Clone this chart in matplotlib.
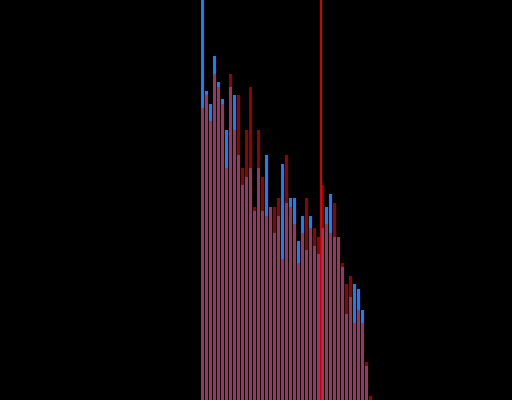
import matplotlib
matplotlib.use("Agg")
import matplotlib.pyplot as plt
import numpy as np

# bin index of each bar
bins = list(range(43))
# blue series heights
blue = [400, 309, 296, 344, 318, 301, 270, 313, 305, 245, 215,
        223, 232, 189, 232, 189, 245, 193, 167, 184, 236, 197,
        202, 202, 159, 184, 150, 184, 154, 146, 172, 193, 206,
        163, 163, 133, 86, 103, 116, 111, 90, 34, 0]
# red series heights
red = [292, 305, 279, 326, 313, 296, 232, 326, 270, 305, 232,
       270, 313, 193, 270, 223, 184, 193, 193, 202, 141, 245,
       193, 176, 137, 167, 202, 172, 172, 163, 215, 176, 167,
       197, 163, 137, 116, 124, 77, 90, 77, 38, 4]
# position of the vertical marker line (in bin units)
marker = 29.5

fig = plt.figure(figsize=(5.12, 4.0), dpi=100, facecolor="black")
ax = fig.add_axes([0, 0, 1, 1])
ax.set_facecolor("black")
ax.bar(bins, blue, width=0.75, color="#0a84ff", linewidth=0, antialiased=False)
ax.bar(bins, red, width=0.75, color="#ff0000", alpha=0.6, linewidth=0, antialiased=False)
ax.axvline(marker, color="#ff0000", linewidth=1.2)
ax.set_xlim(-50.625, 77.375)
ax.set_ylim(0, 400)
ax.axis("off")
fig.savefig("out.png", dpi=100, facecolor="black")
